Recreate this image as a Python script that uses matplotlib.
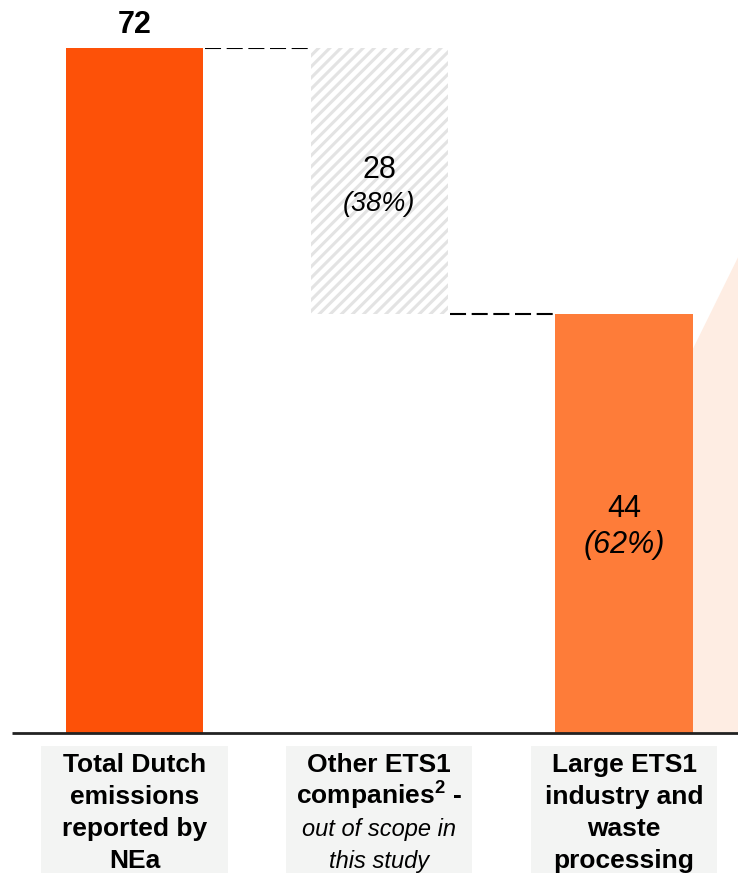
import matplotlib.pyplot as plt
from matplotlib.patches import Rectangle, Polygon
import matplotlib.transforms as mtransforms

plt.rcParams['font.family'] = ['Liberation Sans', 'DejaVu Sans']
plt.rcParams['mathtext.fontset'] = 'custom'
plt.rcParams['mathtext.rm'] = 'Liberation Sans'
plt.rcParams['mathtext.bf'] = 'Liberation Sans:bold'
plt.rcParams['hatch.linewidth'] = 2.2
plt.rcParams['hatch.color'] = '#e3e3e3'

# waterfall values (Mt CO2e)
total = 72
other_ets1 = 28
large_ets1 = 44
shares = ['38%', '62%']

labels_bold = [['Total Dutch', 'emissions', 'reported by', 'NEa'],
               ['Other ETS1', r'companies$^{\mathbf{2}}$ -'],
               ['Large ETS1', 'industry and', 'waste', 'processing']]
labels_italic = [[], ['out of scope in', 'this study'], []]

# edge of the zoom wedge leading to the breakdown on the right
wedge_top = [40.3, 50.0]

W, H = 738, 873
fig = plt.figure(figsize=(W / 100, H / 100), dpi=100)
base_px, top_px = 733, 48
ax = fig.add_axes([0, (H - base_px) / H, 1, (base_px - top_px) / H])
ax.set_ylim(0, total)
step = 244.75
ax.set_xlim(-134.5 / step, (W - 134.5) / step)
ax.axis('off')

bw = 0.56
c_total = '#fd5108'
c_large = '#fe7c39'

ax.bar(0, total, width=bw, color=c_total, linewidth=0)
ax.bar(1, other_ets1, bottom=large_ets1, width=bw, color='white',
       hatch='///', linewidth=0)
ax.bar(2, large_ets1, width=bw, color=c_large, linewidth=0)

# wedge
xr = 2 + bw / 2
xe = ax.get_xlim()[1]
ax.add_patch(Polygon([(xr, 0), (xr, wedge_top[0]), (xe, wedge_top[1]), (xe, 0)],
                     closed=True, facecolor='#feede3', edgecolor='none', zorder=0))

# connectors
dash = dict(color='black', lw=1.5, dashes=(7.7, 2.7), solid_capstyle='butt')
ax.plot([bw / 2 + 0.008, 1 - bw / 2], [total, total], **dash)
ax.plot([1 + bw / 2 + 0.008, 2 - bw / 2], [large_ets1, large_ets1], **dash)

# baseline
ax.plot([12 / step - 134.5 / step, xe], [0, 0], color='#222222', lw=2,
        clip_on=False, solid_capstyle='butt')

# value labels
ax.annotate(str(total), (0, total), xytext=(0, 10.8), textcoords='offset points',
            ha='center', va='baseline', fontsize=22, fontweight='bold')

mid2 = large_ets1 + other_ets1 / 2
ax.annotate(str(other_ets1), (1, mid2), xytext=(0, 2.5), textcoords='offset points',
            ha='center', va='baseline', fontsize=22)
ax.annotate('(' + shares[0] + ')', (1, mid2), xytext=(0, -21.5), textcoords='offset points',
            ha='center', va='baseline', fontsize=19.5, style='italic')

mid3 = large_ets1 / 2
ax.annotate(str(large_ets1), (2, mid3), xytext=(0, 4.5), textcoords='offset points',
            ha='center', va='baseline', fontsize=22)
ax.annotate('(' + shares[1] + ')', (2, mid3), xytext=(0, -21), textcoords='offset points',
            ha='center', va='baseline', fontsize=22, style='italic')

# category boxes and labels below the axis
trans = mtransforms.blended_transform_factory(ax.transData, fig.transFigure)
box_w = 0.76
box_top = (H - 746) / H
baselines = [772, 804, 836, 868]
for i in range(3):
    ax.add_patch(Rectangle((i - box_w / 2, 0), box_w, box_top, transform=trans,
                           facecolor='#f3f4f3', edgecolor='none', clip_on=False))
    lines = [(t, 'bold', 'normal', 19) for t in labels_bold[i]] + \
            [(t, 'normal', 'italic', 17) for t in labels_italic[i]]
    for (t, wt, st, fs), yb in zip(lines, baselines):
        ax.text(i, (H - yb) / H, t, transform=trans, ha='center', va='baseline',
                fontsize=fs, fontweight=wt, style=st, clip_on=False)

fig.savefig('out.png', dpi=100)
